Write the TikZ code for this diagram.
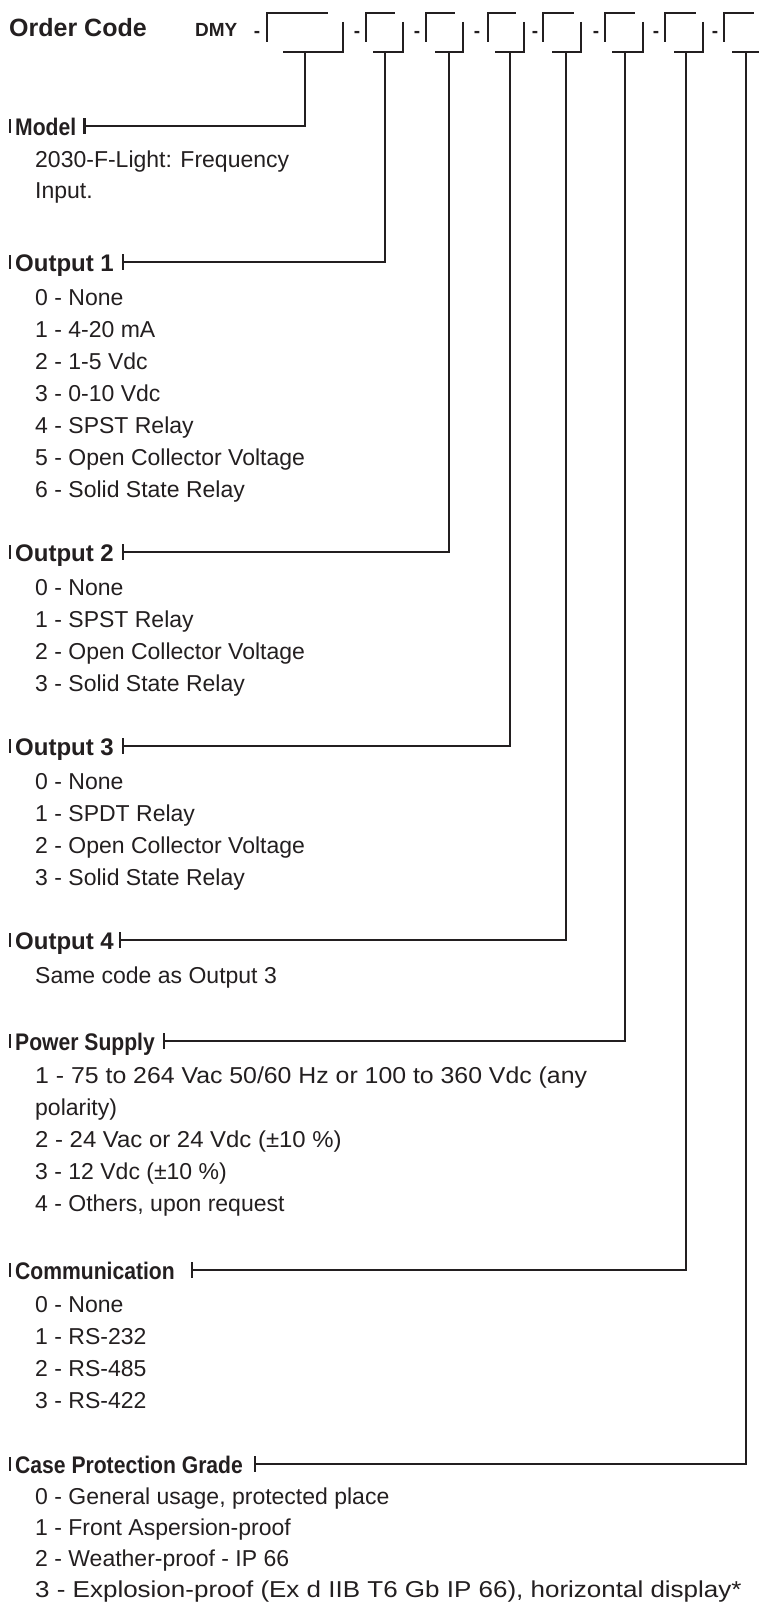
\documentclass[tikz,border=0pt]{standalone}
\usepackage{fontspec}
\usepackage{graphicx}
\setmainfont{Liberation Sans}
\newfontfamily\condfont[FakeStretch=0.88]{Liberation Sans}
\usetikzlibrary{calc}
\definecolor{ink}{HTML}{231F20}
\tikzset{
  ln/.style={draw=ink, line width=2.2pt},
  headO/.style={anchor=base west, inner sep=0pt, text=ink, font=\bfseries\fontsize{24}{28}\selectfont},
  headC/.style={anchor=base west, inner sep=0pt, text=ink, font=\condfont\bfseries\fontsize{24}{28}\selectfont},
  title/.style={anchor=base west, inner sep=0pt, text=ink, font=\bfseries\fontsize{25}{30}\selectfont},
  codefont/.style={anchor=base west, inner sep=0pt, text=ink, font=\bfseries\fontsize{19}{22}\selectfont},
  dashnode/.style={anchor=base, inner sep=0pt, text=ink, font=\bfseries\fontsize{19}{22}\selectfont},
  item/.style={anchor=base west, inner sep=0pt, text=ink, font=\fontsize{23}{27}\selectfont}
}
\begin{document}
\begin{tikzpicture}[x=1pt,y=1pt]
\useasboundingbox[fill=white] (0,0) rectangle (759,-1603);
% title row
\node[title] (order) at (9,-37) {Order Code};
\node[codefont] (dmy) at (195,-37) {DMY};
% code boxes
\foreach \i/\L/\T/\R/\B/\S/\D in {1/267/328/343/283/305/257, 2/366/395/403/373/385/357, 3/426/455/463/435/449/417, 4/488/516/524/495/510/477, 5/543/574/581/552/566/535, 6/605/635/643/612/625/596, 7/665/696/703/674/686/656}{
  \draw[ln] (\L,-42) -- (\L,-13) -- (\T,-13);
  \draw[ln] (\R,-22) -- (\R,-52) -- (\B,-52);
  \coordinate (b\i) at (\S,-52);
  \node[dashnode] (d\i) at (\D,-38) {-};
}
\draw[ln] (724,-42) -- (724,-13) -- (754,-13);
\draw[ln] (732,-52) -- (759,-52);
\coordinate (b8) at (746,-52);
\node[dashnode] (d8) at (715,-38) {-};
% headings with connectors
\foreach \nm/\tx/\st/\H/\g/\s in {Model/Model/headC/126/8/1, Oa/Output 1/headO/262/9/2, Ob/Output 2/headO/552/9/3, Oc/Output 3/headO/746/9/4, Od/Output 4/headO/940/6/5, Pw/Power Supply/headC/1041/9/6, Cm/Communication/headC/1270/17/7, Cs/Case Protection Grade/headC/1464/12/8}{
  \draw[ln] (10,-\H+7) -- (10,-\H-7);
  \node[\st] (h\nm) at (15,-\H-9.5) {\tx};
  \coordinate (t\nm) at ($(h\nm.base east)+(\g,9.5)$);
  \draw[ln] ($(t\nm)+(0,8)$) -- ($(t\nm)+(0,-8)$);
  \draw[ln] (t\nm) -| (b\s);
}
% items
\foreach \t [count=\k from 0] in {{2030-F-Light: Frequency}, {Input.}}
  \node[item] (im\k) at (35,-167-31*\k) {\t};
\foreach \t [count=\k from 0] in {{0 - None}, {1 - 4-20 mA}, {2 - 1-5 Vdc}, {3 - 0-10 Vdc}, {4 - SPST Relay}, {5 - Open Collector Voltage}, {6 - Solid State Relay}}
  \node[item] (ia\k) at (35,-305-32*\k) {\t};
\foreach \t [count=\k from 0] in {{0 - None}, {1 - SPST Relay}, {2 - Open Collector Voltage}, {3 - Solid State Relay}}
  \node[item] (ib\k) at (35,-595-32*\k) {\t};
\foreach \t [count=\k from 0] in {{0 - None}, {1 - SPDT Relay}, {2 - Open Collector Voltage}, {3 - Solid State Relay}}
  \node[item] (ic\k) at (35,-789-32*\k) {\t};
\node[item] (id0) at (35,-983) {Same code as Output 3};
\node[item] (ip0) at (35,-1083) {\scalebox{1.08}[1]{1 - 75 to 264 Vac 50/60 Hz or 100 to 360 Vdc (any}};
\node[item] (ip1) at (35,-1115) {polarity)};
\node[item] (ip2) at (35,-1147) {\scalebox{1.04}[1]{2 - 24 Vac or 24 Vdc (±10 \%)}};
\node[item] (ip3) at (35,-1179) {3 - 12 Vdc (±10 \%)};
\node[item] (ip4) at (35,-1211) {4 - Others, upon request};
\foreach \t [count=\k from 0] in {{0 - None}, {1 - RS-232}, {2 - RS-485}, {3 - RS-422}}
  \node[item] (ik\k) at (35,-1312-32*\k) {\t};
\node[item] (is0) at (35,-1504) {0 - General usage, protected place};
\node[item] (is1) at (35,-1535) {1 - Front Aspersion-proof};
\node[item] (is2) at (35,-1566) {2 - Weather-proof - IP 66};
\node[item] (is3) at (35,-1597) {\scalebox{1.13}[1]{3 - Explosion-proof (Ex d IIB T6 Gb IP 66), horizontal display*}};
\end{tikzpicture}
\end{document}
